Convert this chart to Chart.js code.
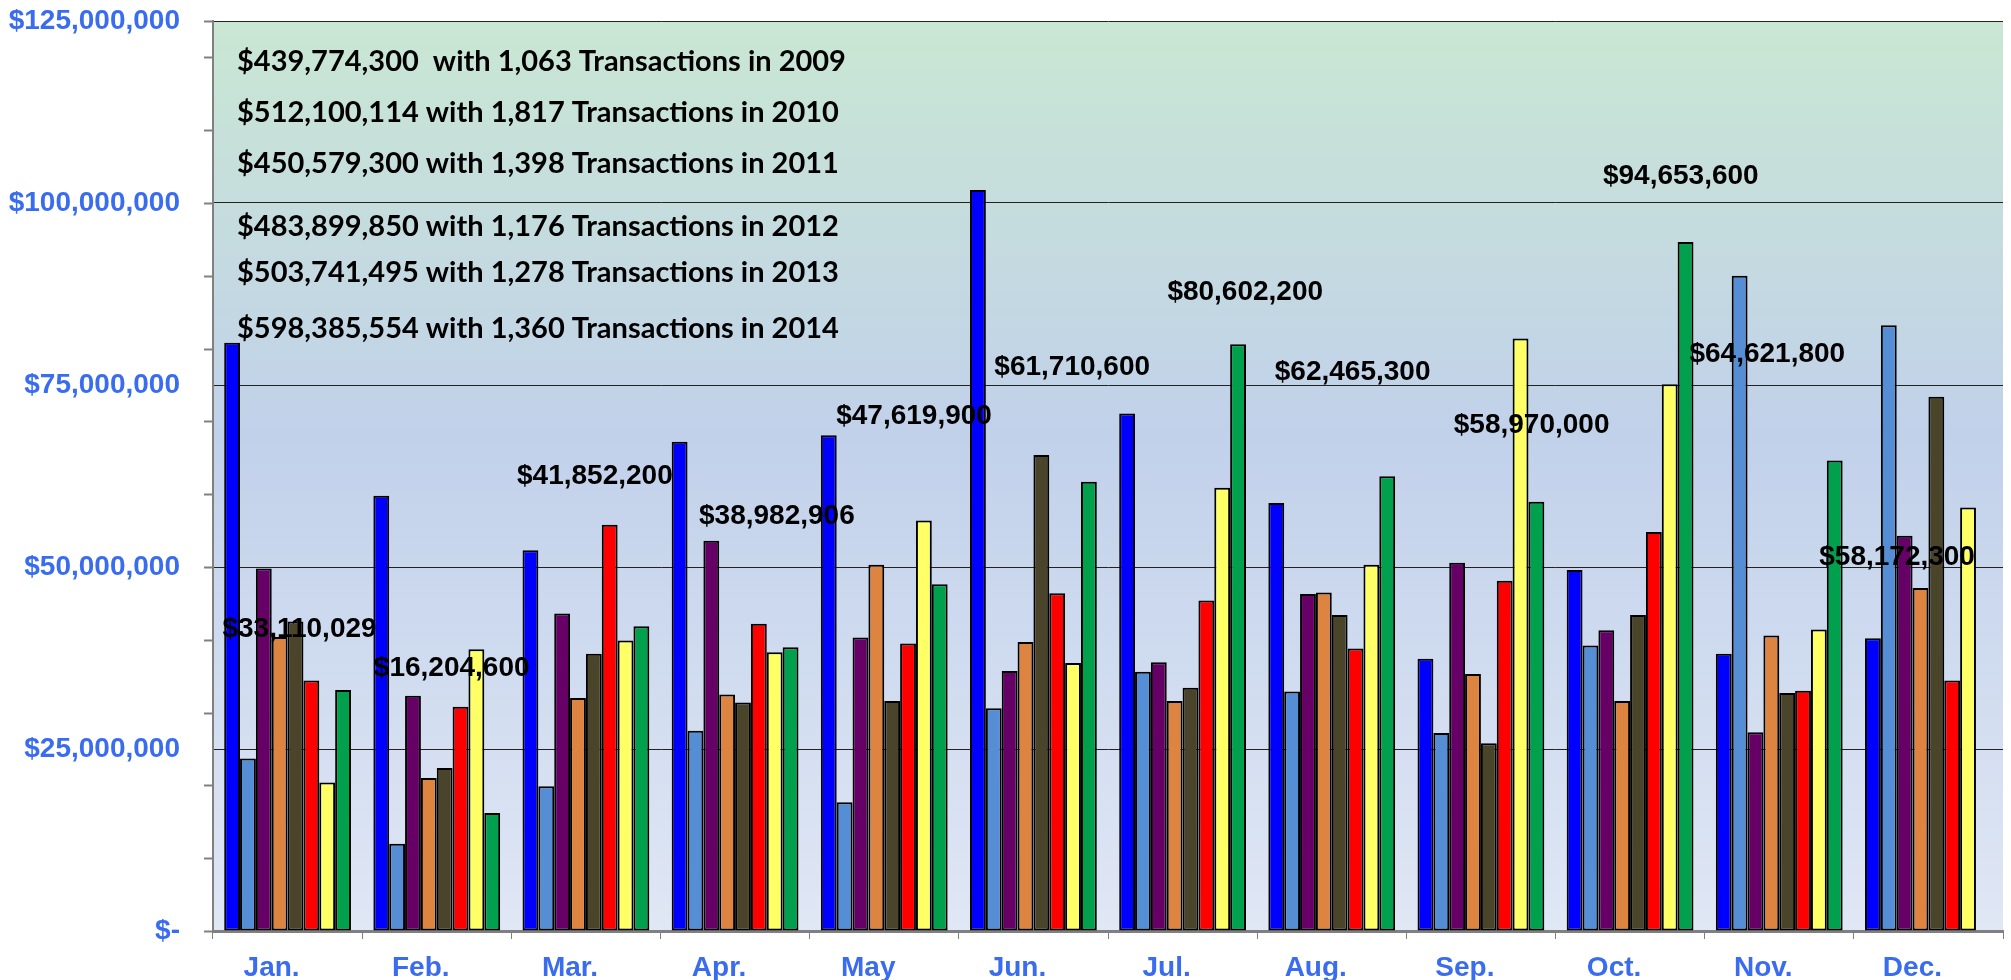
<!DOCTYPE html>
<html>
<head>
<meta charset="utf-8">
<script src="https://cdn.jsdelivr.net/npm/chart.js@4.4.0/dist/chart.umd.min.js"></script>
<style>
  html, body { margin: 0; padding: 0; background: #fff; }
  #caja { width: 2011px; height: 980px; }
</style>
</head>
<body>
<div id="caja"><canvas id="ventas"></canvas></div>
<script>
// categorias y series (dolares por mes)
const meses = ['Jan.', 'Feb.', 'Mar.', 'Apr.', 'May', 'Jun.', 'Jul.', 'Aug.', 'Sep.', 'Oct.', 'Nov.', 'Dec.'];
const anios = ['2008', '2009', '2010', '2011', '2012', '2013', '2014', '2015'];

const v2008 = [80800000, 59800000, 52300000, 67200000, 68100000, 101800000, 71100000, 58800000, 37400000, 49600000, 38100000, 40200000];
const v2009 = [23700000, 12000000, 19900000, 27500000, 17700000, 30600000, 35600000, 32900000, 27200000, 39200000, 90000000, 83200000];
const v2010 = [49800000, 32300000, 43600000, 53600000, 40300000, 35700000, 36900000, 46300000, 50600000, 41300000, 27300000, 54300000];
const v2011 = [40400000, 21000000, 32000000, 32500000, 50300000, 39700000, 31600000, 46500000, 35300000, 31600000, 40600000, 47100000];
const v2012 = [42500000, 22400000, 38100000, 31400000, 31600000, 65400000, 33400000, 43400000, 25800000, 43400000, 32700000, 73400000];
const v2013 = [34400000, 30800000, 55800000, 42200000, 39500000, 46400000, 45400000, 38800000, 48100000, 54800000, 33000000, 34400000];
const v2014 = [20400000, 38700000, 39900000, 38300000, 56400000, 36800000, 60900000, 50300000, 81400000, 75100000, 41400000, 58172300];
const v2015 = [33110029, 16204600, 41852200, 38982906, 47619900, 61710600, 80602200, 62465300, 58970000, 94653600, 64621800, null];

const colores = ['#0000ff', '#558ed5', '#660066', '#dd8440', '#4a442a', '#ff0000', '#ffff66', '#00a04c'];

// textos sobre la grafica
const etiquetasMes = ['$33,110,029', '$16,204,600', '$41,852,200', '$38,982,906', '$47,619,900', '$61,710,600',
                      '$80,602,200', '$62,465,300', '$58,970,000', '$94,653,600', '$64,621,800', '$58,172,300'];
const totales = [
  '$439,774,300  with 1,063 Transactions in 2009',
  '$512,100,114 with 1,817 Transactions in 2010',
  '$450,579,300 with 1,398 Transactions in 2011',
  '$483,899,850 with 1,176 Transactions in 2012',
  '$503,741,495 with 1,278 Transactions in 2013',
  '$598,385,554 with 1,360 Transactions in 2014'
];

// donde van las etiquetas: desplazamiento en fraccion de categoria, altura en dolares
const posEtiquetas = [
  [0.08, 41500000], [0.10, 36100000], [0.06, 62400000], [0.28, 56900000],
  [0.20, 70700000], [0.26, 77500000], [0.42, 87700000], [0.14, 76700000],
  [0.34, 69500000], [0.34, 103700000], [-0.08, 79200000], [-0.21, 51300000]
];
const posTotales = [119400000, 112400000, 105400000, 96700000, 90400000, 82700000];

const AZUL = '#3a6cf0';
const series = [v2008, v2009, v2010, v2011, v2012, v2013, v2014, v2015];

const fondo = {
  id: 'fondo',
  beforeDraw(chart) {
    const { ctx, chartArea: a } = chart;
    const g = ctx.createLinearGradient(0, a.top, 0, a.bottom);
    g.addColorStop(0, '#c9e7d3');
    g.addColorStop(0.45, '#c1d1ea');
    g.addColorStop(1, '#e0e7f5');
    ctx.save();
    ctx.fillStyle = g;
    ctx.fillRect(a.left, a.top, a.right - a.left, a.bottom - a.top);
    ctx.restore();
  },
  afterDraw(chart) {
    // marcas menores del eje y cada 10 millones
    const { ctx, chartArea: a } = chart;
    const y = chart.scales.y;
    ctx.save();
    ctx.strokeStyle = '#808080';
    ctx.lineWidth = 2;
    const marcas = [];
    for (let v = 0; v <= 120000000; v += 10000000) marcas.push(v);
    marcas.push(125000000);
    marcas.forEach(v => {
      const py = Math.round(y.getPixelForValue(v)) + 0.5;
      ctx.beginPath();
      ctx.moveTo(a.left - 9, py);
      ctx.lineTo(a.left, py);
      ctx.stroke();
    });
    ctx.restore();
  }
};

const textos = {
  id: 'textos',
  afterDatasetsDraw(chart) {
    const { ctx, chartArea: a } = chart;
    const x = chart.scales.x, y = chart.scales.y;
    const anchoCat = (a.right - a.left) / meses.length;
    ctx.save();
    ctx.fillStyle = '#000';
    ctx.textBaseline = 'middle';
    ctx.textAlign = 'center';
    ctx.font = 'bold 28px "Liberation Sans", Arial, sans-serif';
    etiquetasMes.forEach((t, i) => {
      const [dx, v] = posEtiquetas[i];
      ctx.fillText(t, x.getPixelForValue(i) + dx * anchoCat, y.getPixelForValue(v));
    });
    ctx.textAlign = 'left';
    ctx.font = 'bold 29px Lato, "Open Sans", sans-serif';
    totales.forEach((t, i) => {
      ctx.fillText(t, a.left + 24, y.getPixelForValue(posTotales[i]));
    });
    ctx.restore();
  }
};

new Chart(document.getElementById('ventas'), {
  type: 'bar',
  data: {
    labels: meses,
    datasets: series.map((d, i) => ({
      label: anios[i],
      data: d,
      backgroundColor: colores[i],
      borderColor: '#000',
      borderWidth: 2,
      borderSkipped: false,
      categoryPercentage: 0.85,
      barPercentage: 1.0
    }))
  },
  options: {
    responsive: true,
    maintainAspectRatio: false,
    animation: false,
    layout: { padding: { top: 21, right: 8, left: 0, bottom: 0 } },
    plugins: {
      legend: { display: false },
      tooltip: { enabled: false }
    },
    scales: {
      x: {
        grid: { offset: true, drawOnChartArea: false, drawTicks: true, tickLength: 8, color: '#808080', lineWidth: 1 },
        border: { display: true, color: '#808080', width: 3 },
        ticks: { color: AZUL, font: { family: '"Liberation Sans", Arial, sans-serif', size: 28, weight: 'bold' }, padding: 12, labelOffset: -16 },
        afterFit: s => { s.height = 49; s.paddingLeft = 0; s.paddingRight = 0; }
      },
      y: {
        min: 0,
        max: 125000000,
        ticks: {
          stepSize: 25000000,
          color: AZUL,
          padding: 33,
          font: { family: '"Liberation Sans", Arial, sans-serif', size: 28, weight: 'bold' },
          callback: v => v === 0 ? '$-' : '$' + v.toLocaleString('en-US')
        },
        grid: { color: '#222', lineWidth: 1, drawTicks: false },
        border: { display: true, color: '#808080', width: 2 },
        afterFit: s => { s.width = 213; s.paddingTop = 0; s.paddingBottom = 0; }
      }
    }
  },
  plugins: [fondo, textos]
});
</script>
</body>
</html>
